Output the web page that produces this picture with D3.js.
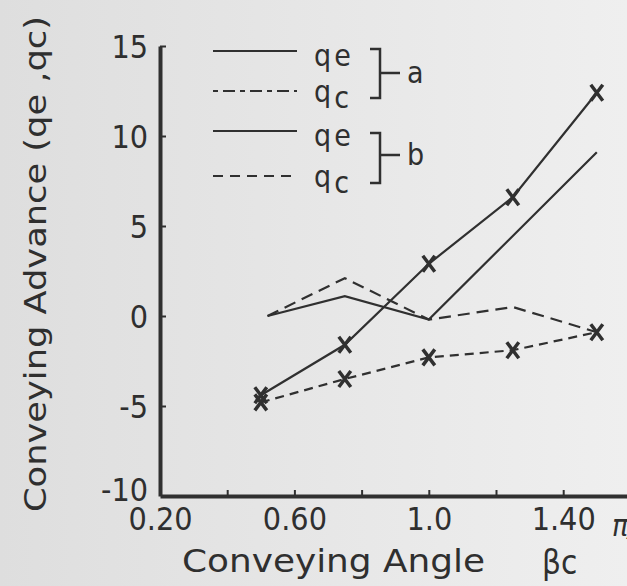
<!DOCTYPE html>
<html>
<head>
<meta charset="utf-8">
<script src="https://cdn.jsdelivr.net/npm/d3@7"></script>
<style>
  body { margin: 0; background: #e4e4e4; }
  svg { display: block; }
  text { font-family: "DejaVu Sans Condensed", "DejaVu Sans", sans-serif; fill: #2f2f2f; }
</style>
</head>
<body>
<svg width="627" height="586"></svg>
<script>
// values
var angles = [0.5, 0.75, 1.0, 1.25, 1.5];
var aQe = [-4.4, -1.6, 2.9, 6.6, 12.4];
var aQc = [-4.8, -3.5, -2.3, -1.9, -0.9];
var bQeAngles = [0.52, 0.75, 1.0, 1.5];
var bQe = [0.0, 1.1, -0.2, 9.1];
var bQcAngles = [0.52, 0.75, 1.0, 1.25, 1.5];
var bQc = [0.0, 2.1, -0.2, 0.5, -0.9];
var xTicks = [0.2, 0.4, 0.6, 0.8, 1.0, 1.2, 1.4];
var xTickLabels = {0.2: "0.20", 0.6: "0.60", 1.0: "1.0", 1.4: "1.40"};
var yTicks = [-10, -5, 0, 5, 10, 15];

var ink = "#303030";
var svg = d3.select("svg");

// paper background, a bit lighter to the right
var grad = svg.append("defs").append("linearGradient").attr("id", "paper");
grad.append("stop").attr("offset", "0").attr("stop-color", "#dedede");
grad.append("stop").attr("offset", "1").attr("stop-color", "#efefef");
svg.append("rect").attr("width", 627).attr("height", 586).attr("fill", "url(#paper)");

var x = d3.scaleLinear().domain([0.2, 1.6]).range([160, 630.4]);
var y = d3.scaleLinear().domain([-10, 15]).range([496, 46]);

// axes
var yAxisG = svg.append("g")
    .attr("transform", "translate(" + x(0.2) + ",0)")
    .call(d3.axisLeft(y).tickValues(yTicks).tickSize(-6).tickSizeOuter(0)
      .tickPadding(12).tickFormat(function(d) { return String(d); }));

var xAxisG = svg.append("g")
    .attr("transform", "translate(0," + y(-10) + ")")
    .call(d3.axisBottom(x).tickValues(xTicks).tickSize(-6).tickSizeOuter(0)
      .tickPadding(11).tickFormat(function(d) { return xTickLabels[d] || ""; }));

[yAxisG, xAxisG].forEach(function(g) {
  g.select(".domain").attr("stroke", ink).attr("stroke-width", 4);
  g.selectAll(".tick line").attr("stroke", ink).attr("stroke-width", 2);
  g.selectAll(".tick text").attr("fill", ink).style("font-size", "32px");
});
yAxisG.selectAll(".tick text").attr("dy", "0.36em");
xAxisG.selectAll(".tick text").attr("dy", "0.72em");
xAxisG.selectAll(".tick").filter(function(d) { return d === 0.2; }).select("line").remove();
var bottomTick = yAxisG.selectAll(".tick").filter(function(d) { return d === -10; });
bottomTick.select("line").remove();
bottomTick.select("text").attr("y", -7);

// series
var line = d3.line().x(function(d) { return x(d[0]); }).y(function(d) { return y(d[1]); });
var series = [
  {xs: angles, ys: aQe, dash: null, marks: true},
  {xs: angles, ys: aQc, dash: "9,6", marks: true},
  {xs: bQeAngles, ys: bQe, dash: null, marks: false},
  {xs: bQcAngles, ys: bQc, dash: "12,7", marks: false}
];
series.forEach(function(s) {
  var pts = d3.zip(s.xs, s.ys);
  svg.append("path").datum(pts)
    .attr("d", line)
    .attr("fill", "none")
    .attr("stroke", ink)
    .attr("stroke-width", 2.2)
    .attr("stroke-dasharray", s.dash);
  if (s.marks) {
    svg.selectAll(null).data(pts).enter().append("path")
      .attr("transform", function(d) { return "translate(" + x(d[0]) + "," + y(d[1]) + ")"; })
      .attr("d", "M-6,-8L6,8M6,-8L-6,8")
      .attr("stroke", ink)
      .attr("stroke-width", 3.5)
      .attr("fill", "none");
  }
});

// legend
var legendRows = [
  {y: 51, dash: null, sub: "e", ty: 66},
  {y: 91, dash: "5,5,12,5", sub: "c", ty: 102},
  {y: 131, dash: null, sub: "e", ty: 146},
  {y: 176, dash: "10,7", sub: "c", ty: 187}
];
legendRows.forEach(function(r) {
  svg.append("line").attr("x1", 213).attr("x2", 297).attr("y1", r.y).attr("y2", r.y)
    .attr("stroke", ink).attr("stroke-width", 2.2).attr("stroke-dasharray", r.dash);
  var t = svg.append("text").attr("x", 314).attr("y", r.ty).style("font-size", "30px");
  t.append("tspan").text("q");
  t.append("tspan").attr("dx", 3).attr("dy", r.sub === "c" ? 6 : 0).text(r.sub);
});
[{y0: 49, y1: 98, ym: 73, label: "a"}, {y0: 133, y1: 183, ym: 155, label: "b"}].forEach(function(b) {
  svg.append("path")
    .attr("d", "M370," + b.y0 + "H380V" + b.y1 + "H370M380," + b.ym + "H400")
    .attr("fill", "none").attr("stroke", ink).attr("stroke-width", 2.5);
  svg.append("text").attr("x", 407).attr("y", b.ym + 10).style("font-size", "30px").text(b.label);
});

// axis titles
svg.append("text")
  .attr("transform", "translate(46,264) rotate(-90)")
  .attr("text-anchor", "middle")
  .attr("textLength", 496).attr("lengthAdjust", "spacingAndGlyphs")
  .style("font-size", "31px")
  .text("Conveying  Advance (qe ,qc)");
svg.append("text").attr("x", 182).attr("y", 572)
  .attr("textLength", 303).attr("lengthAdjust", "spacingAndGlyphs")
  .style("font-size", "32px").text("Conveying Angle");
svg.append("text").attr("x", 542).attr("y", 574).style("font-size", "33px").text("βc");
svg.append("text").attr("x", 612).attr("y", 536).style("font-size", "30px")
  .style("font-style", "italic").text("π/2");

// caption, cut off by the bottom edge
svg.append("text").attr("x", 0).attr("y", 607).style("font-size", "30px")
  .style("font-family", "Liberation Serif, serif").text("Figure 14.   Forward conveying advance");
</script>
</body>
</html>
